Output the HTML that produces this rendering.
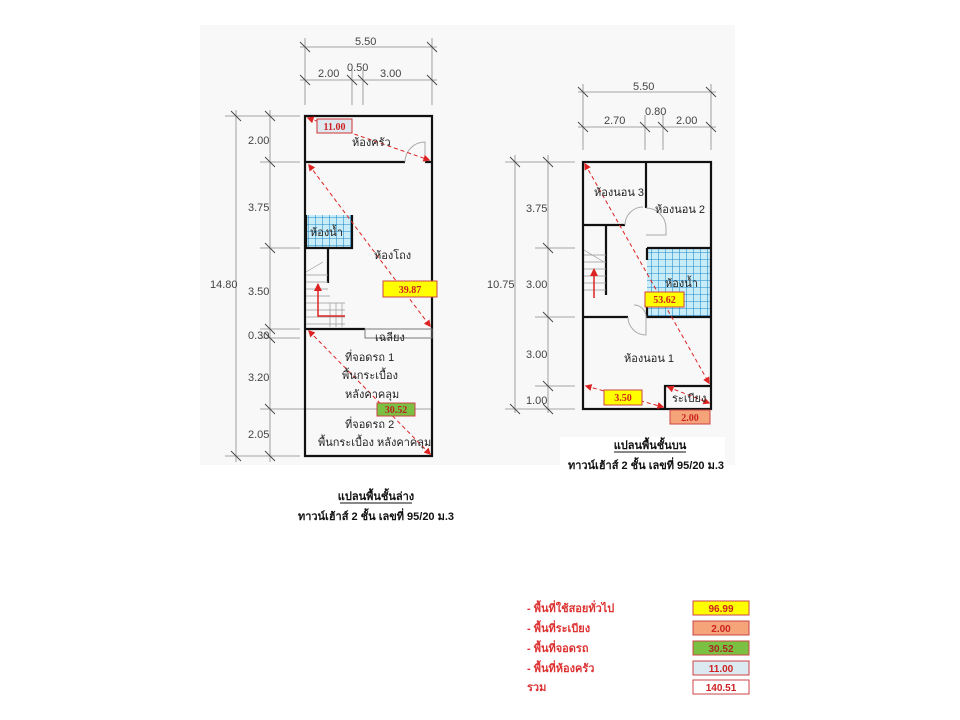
<!DOCTYPE html>
<html><head><meta charset="utf-8"><style>
html,body{margin:0;padding:0;background:#fff;}
svg{display:block;}
text{font-family:"Liberation Sans","Noto Sans CJK SC",sans-serif;}
.th{font-family:"Liberation Sans","Noto Sans CJK SC","WenQuanYi Zen Hei",sans-serif;font-size:11px;fill:#222;}
.dim{font-size:11px;fill:#444;}
.w{stroke:#111;stroke-width:2.2;fill:none;}
.d{stroke:#888;stroke-width:0.8;}
.t{stroke:#444;stroke-width:0.9;}
.ar{stroke:#d22;stroke-width:1;stroke-dasharray:4,3;fill:none;}
.lg{font-size:11px;fill:#d33;font-weight:bold;font-family:"Liberation Serif","Noto Serif CJK SC",serif;}
.bx{font-size:10px;font-weight:bold;font-family:"Liberation Serif",serif;}
</style></head><body>
<svg width="960" height="720" viewBox="0 0 960 720" xmlns="http://www.w3.org/2000/svg">
<defs>
<pattern id="g" width="7" height="7" patternUnits="userSpaceOnUse">
<rect width="7" height="7" fill="#c8ecf8"/><path d="M0 0H7M0 0V7" stroke="#1e88c8" stroke-width="1.1"/></pattern>
<marker id="m" viewBox="0 0 10 10" refX="8" refY="5" markerWidth="7" markerHeight="7" orient="auto-start-reverse"><path d="M0 0L10 5L0 10z" fill="#d22"/></marker>
</defs>
<rect x="200" y="25" width="535" height="440" fill="#f8f8f8"/>

<!-- LEFT PLAN dims -->
<g class="d">
<line x1="300" y1="47" x2="437" y2="47"/><line x1="300" y1="80" x2="437" y2="80"/>
<line x1="305" y1="38" x2="305" y2="105"/><line x1="432" y1="38" x2="432" y2="105"/>
<line x1="352" y1="70" x2="352" y2="105"/><line x1="363" y1="70" x2="363" y2="105"/>
<line x1="236" y1="110" x2="236" y2="462"/><line x1="270" y1="110" x2="270" y2="462"/>
<line x1="225" y1="116" x2="300" y2="116"/><line x1="260" y1="162" x2="300" y2="162"/>
<line x1="260" y1="248" x2="300" y2="248"/><line x1="260" y1="329" x2="300" y2="329"/>
<line x1="260" y1="338" x2="300" y2="338"/><line x1="260" y1="409" x2="432" y2="409"/>
<line x1="225" y1="456" x2="300" y2="456"/>
</g>
<g class="t">
<path d="M300 42l10 10M427 42l10 10M300 75l10 10M347 75l10 10M358 75l10 10M427 75l10 10"/>
<path d="M231 111l10 10M265 111l10 10M265 157l10 10M265 243l10 10M265 324l10 10M265 333l10 10M265 404l10 10M231 451l10 10M265 451l10 10"/>
</g>
<g class="dim">
<text x="355" y="45">5.50</text><text x="318" y="77">2.00</text><text x="347" y="71">0.50</text><text x="380" y="77">3.00</text>
<text x="248" y="144">2.00</text><text x="248" y="211">3.75</text><text x="210" y="288">14.80</text><text x="248" y="295">3.50</text>
<text x="248" y="339">0.30</text><text x="248" y="381">3.20</text><text x="248" y="438">2.05</text>
</g>
<rect x="306" y="215" width="46" height="33" fill="url(#g)"/>
<g class="w">
<path d="M405 162H305V116H432V456H305V162"/>
<path d="M425 162H432"/>
<path d="M306 215V248H352V215"/>
<path d="M328 248V283"/>
<path d="M305 329H365"/>
</g>
<path d="M405 162a20 20 0 0 1 20 -20V162" fill="none" stroke="#aaa"/>
<rect x="365" y="329" width="67" height="9" fill="none" stroke="#777"/>
<g stroke="#999" stroke-width="0.7"><path d="M306 275H328M306 282H328M306 289H328M306 296H330M306 303H345M306 310H345M306 317H345M306 324H345M330 303V327M336 303V327M342 303V327M306 272l17 -10"/></g>
<path d="M318 284V316H345" fill="none" stroke="#d22" stroke-width="1.5"/><path d="M314 291l4-8 4 8" fill="#d22"/>
<line class="ar" x1="308" y1="118" x2="429" y2="160" marker-start="url(#m)" marker-end="url(#m)"/>
<line class="ar" x1="309" y1="165" x2="430" y2="326" marker-start="url(#m)" marker-end="url(#m)"/>
<line class="ar" x1="309" y1="331" x2="430" y2="454" marker-start="url(#m)" marker-end="url(#m)"/>
<g class="th">
<text x="352" y="146">ห้องครัว</text><text x="310" y="236">ห้องน้ำ</text><text x="374" y="259">ห้องโถง</text>
<text x="375" y="341">เฉลียง</text><text x="345" y="361">ที่จอดรถ 1</text><text x="342" y="379">พื้นกระเบื้อง</text>
<text x="345" y="398">หลังคาคลุม</text><text x="345" y="428">ที่จอดรถ 2</text><text x="318" y="446">พื้นกระเบื้อง หลังคาคลุม</text>
</g>
<rect x="317" y="119" width="35" height="14" fill="#dfe8ee" stroke="#c33"/><text class="bx" x="334.5" y="130" fill="#c22" text-anchor="middle">11.00</text>
<rect x="383" y="281" width="54" height="16" fill="#ffff00" stroke="#c44"/><text class="bx" x="410" y="293" fill="#c22" text-anchor="middle">39.87</text>
<rect x="377" y="403" width="38" height="13" fill="#7ac143" stroke="#c44"/><text class="bx" x="396" y="413" fill="#b22" text-anchor="middle">30.52</text>

<!-- RIGHT PLAN dims -->
<g class="d">
<line x1="578" y1="92" x2="716" y2="92"/><line x1="578" y1="127" x2="716" y2="127"/>
<line x1="583" y1="84" x2="583" y2="150"/><line x1="711" y1="84" x2="711" y2="150"/>
<line x1="645" y1="115" x2="645" y2="150"/><line x1="663" y1="115" x2="663" y2="150"/>
<line x1="515" y1="155" x2="515" y2="413"/><line x1="548" y1="155" x2="548" y2="413"/>
<line x1="505" y1="162" x2="575" y2="162"/><line x1="535" y1="248" x2="575" y2="248"/>
<line x1="535" y1="317" x2="575" y2="317"/><line x1="535" y1="386" x2="575" y2="386"/>
<line x1="505" y1="409" x2="575" y2="409"/>
</g>
<g class="t">
<path d="M578 87l10 10M706 87l10 10M578 122l10 10M640 122l10 10M658 122l10 10M706 122l10 10"/>
<path d="M510 157l10 10M543 157l10 10M543 243l10 10M543 312l10 10M543 381l10 10M510 404l10 10M543 404l10 10"/>
</g>
<g class="dim">
<text x="633" y="90">5.50</text><text x="604" y="124">2.70</text><text x="645" y="115">0.80</text><text x="676" y="124">2.00</text>
<text x="526" y="212">3.75</text><text x="487" y="288">10.75</text><text x="526" y="288">3.00</text>
<text x="526" y="358">3.00</text><text x="526" y="404">1.00</text>
</g>
<rect x="647" y="248" width="64" height="69" fill="url(#g)"/>
<g class="w">
<rect x="583" y="162" width="128" height="247"/>
<path d="M646 162V208"/><path d="M583 225H625"/><path d="M606 225V295"/>
<path d="M647 248H711M647 248V260M647 305V317H711"/>
<path d="M583 317H628"/><path d="M665 409V386H711"/>
</g>
<path d="M646 208a20 20 0 0 1 20 20V235H646M625 225a18 18 0 0 1 18 -18" fill="none" stroke="#aaa"/>
<path d="M628 317a18 18 0 0 0 18 18V317M646 317a12 12 0 0 0 -12 -12" fill="none" stroke="#aaa"/>
<g stroke="#999" stroke-width="0.7"><path d="M584 255H606M584 262H606M584 269H606M584 276H606M584 283H606M584 290H606M584 250l20 12"/></g>
<path d="M594 298V270" stroke="#d22" stroke-width="1.5"/><path d="M590 276l4-8 4 8" fill="#d22"/>
<line class="ar" x1="585" y1="164" x2="709" y2="383" marker-start="url(#m)" marker-end="url(#m)"/>
<line class="ar" x1="586" y1="386" x2="663" y2="407" marker-start="url(#m)" marker-end="url(#m)"/>
<line class="ar" x1="668" y1="387" x2="709" y2="403" marker-start="url(#m)" marker-end="url(#m)"/>
<g class="th">
<text x="594" y="196">ห้องนอน 3</text><text x="655" y="213">ห้องนอน 2</text><text x="665" y="287">ห้องน้ำ</text>
<text x="624" y="362">ห้องนอน 1</text><text x="672" y="402">ระเบียง</text>
</g>
<rect x="645" y="292" width="39" height="15" fill="#ffff00" stroke="#c44"/><text class="bx" x="664.5" y="303" fill="#c22" text-anchor="middle">53.62</text>
<rect x="604" y="390" width="38" height="15" fill="#ffff00" stroke="#c44"/><text class="bx" x="623" y="401" fill="#c22" text-anchor="middle">3.50</text>
<rect x="670" y="410" width="40" height="14" fill="#f5a47a" stroke="#c44"/><text class="bx" x="690" y="421" fill="#c22" text-anchor="middle">2.00</text>

<rect x="560" y="437" width="165" height="40" fill="#fff"/>
<g font-family="'Liberation Serif','Noto Serif CJK SC',serif" font-weight="bold" font-size="11" fill="#111" text-anchor="middle">
<text x="376" y="500">แปลนพื้นชั้นล่าง</text><line x1="340" y1="503" x2="412" y2="503" stroke="#111"/>
<text x="376" y="520">ทาวน์เฮ้าส์ 2 ชั้น เลขที่ 95/20 ม.3</text>
<text x="650" y="449">แปลนพื้นชั้นบน</text><line x1="614" y1="452" x2="686" y2="452" stroke="#111"/>
<text x="646" y="469">ทาวน์เฮ้าส์ 2 ชั้น เลขที่ 95/20 ม.3</text>
</g>

<g class="lg">
<text x="527" y="612">- พื้นที่ใช้สอยทั่วไป</text><text x="527" y="632">- พื้นที่ระเบียง</text>
<text x="527" y="652">- พื้นที่จอดรถ</text><text x="527" y="672">- พื้นที่ห้องครัว</text><text x="527" y="691">รวม</text>
</g>
<rect x="693" y="601" width="56" height="14" fill="#ffff00" stroke="#c44"/>
<rect x="693" y="621" width="56" height="14" fill="#f5a47a" stroke="#c44"/>
<rect x="693" y="641" width="56" height="14" fill="#7ac143" stroke="#c44"/>
<rect x="693" y="661" width="56" height="14" fill="#dbe9f1" stroke="#c44"/>
<rect x="693" y="680" width="56" height="14" fill="#fff" stroke="#c44"/>
<g class="bx" fill="#c22" text-anchor="middle">
<text x="721" y="612">96.99</text><text x="721" y="632">2.00</text><text x="721" y="652" fill="#a22">30.52</text>
<text x="721" y="672">11.00</text><text x="721" y="691">140.51</text>
</g>
</svg>
</body></html>
